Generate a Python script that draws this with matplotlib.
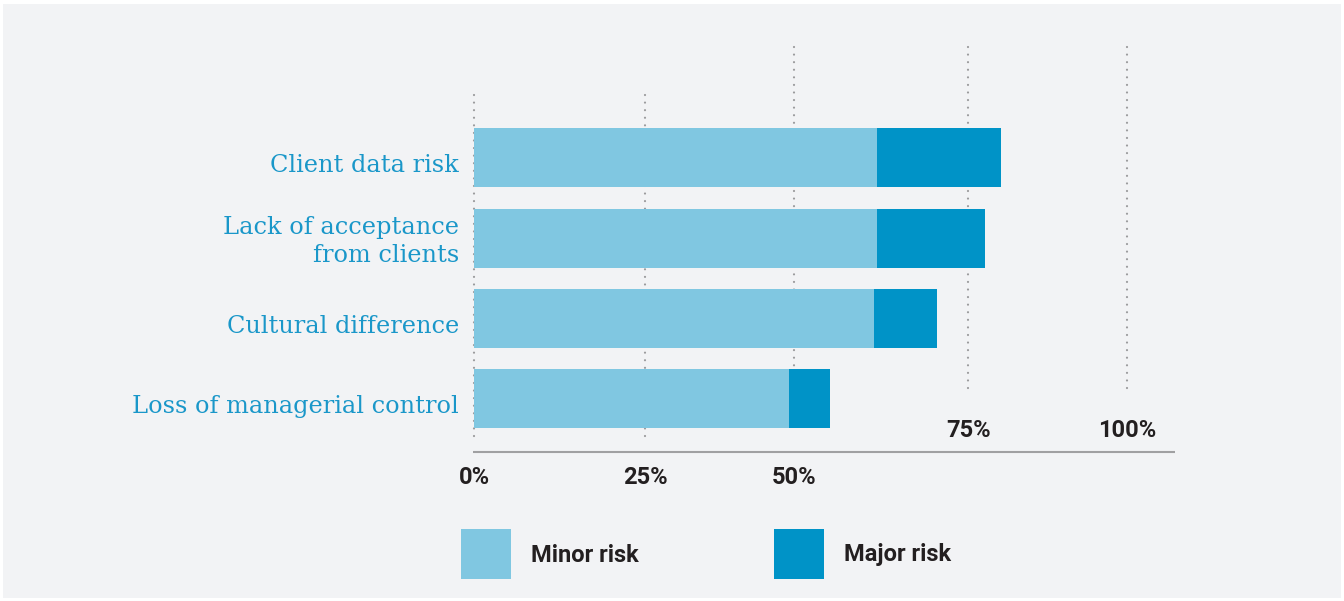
import matplotlib.pyplot as plt
from matplotlib.patches import Rectangle
from matplotlib import font_manager

categories = ["Client data risk", "Lack of acceptance\nfrom clients",
              "Cultural difference", "Loss of managerial control"]
minor_risk = [61.7, 61.7, 61.3, 48.2]
major_risk = [19.0, 16.6, 9.6, 6.3]
tick_labels = ["0%", "25%", "50%", "75%", "100%"]
grid_pos = [0, 26.2, 49.0, 75.7, 100]

light_blue = "#80c7e1"
dark_blue = "#0093c7"
label_blue = "#1a97c9"
bg = "#f2f3f5"

names = {f.name for f in font_manager.fontManager.ttflist}
num_font = "Liberation Sans Narrow" if "Liberation Sans Narrow" in names else "Roboto"

W, H = 1344, 601
fig = plt.figure(figsize=(W / 100, H / 100), dpi=100, facecolor="white")
fig.patches.append(Rectangle((3 / W, 3 / H), (W - 6) / W, (H - 7) / H,
                             transform=fig.transFigure, facecolor=bg,
                             edgecolor="none", zorder=-10))

# axes: x 0..100 spans px 474..1127, y spans px 47..452
ax = fig.add_axes([474 / W, (H - 452) / H, 653 / W, 405 / H])
ax.patch.set_visible(False)
ax.set_xlim(0, 100)
ax.set_ylim(3.66, -1.38)
for s in ax.spines.values():
    s.set_visible(False)
ax.set_xticks([])
ax.set_yticks([])

y = list(range(len(categories)))
ax.barh(y, minor_risk, height=0.735, color=light_blue, zorder=3)
ax.barh(y, major_risk, left=minor_risk, height=0.735, color=dark_blue, zorder=3)

# dotted gridlines, each with its own vertical span
spans = [(-0.78, 3.51), (-0.78, 3.51), (-1.38, 2.60), (-1.38, 2.95), (-1.38, 2.95)]
for x, (y0, y1) in zip(grid_pos, spans):
    ax.plot([x, x], [y0, y1], color="#9a9a9c", lw=1.6,
            linestyle=(0, (0.01, 3.4)), dash_capstyle="round", zorder=1,
            clip_on=False)

# baseline
ax.plot([-0.2, 107.3], [3.66, 3.66], color="#a0a0a2", lw=1.5, clip_on=False,
        solid_capstyle="butt")

# percentage labels: first three below the baseline, last two above
for i, (x, t) in enumerate(zip(grid_pos, tick_labels)):
    ty = 3.98 if i < 3 else 3.39
    ax.text(x, ty, t, ha="center", va="center", fontsize=17,
            fontweight="bold", family=num_font, color="#231f20", clip_on=False)

for yi, name in zip(y, categories):
    dy = 0.04 if "\n" in name else 0.1
    ax.text(-2.3, yi + dy, name, ha="right", va="center", fontsize=17.3,
            family="DejaVu Serif", color=label_blue, linespacing=1.3)

# legend
for px, label, c in [(461, "Minor risk", light_blue), (774, "Major risk", dark_blue)]:
    fig.patches.append(Rectangle((px / W, (H - 579) / H), 50 / W, 50 / H,
                                 transform=fig.transFigure, facecolor=c,
                                 edgecolor="none"))
    fig.text((px + 70) / W, (H - 555) / H, label, ha="left", va="center",
             fontsize=17, fontweight="bold", family=num_font, color="#231f20")

fig.savefig("out.png", dpi=100, facecolor="white")
